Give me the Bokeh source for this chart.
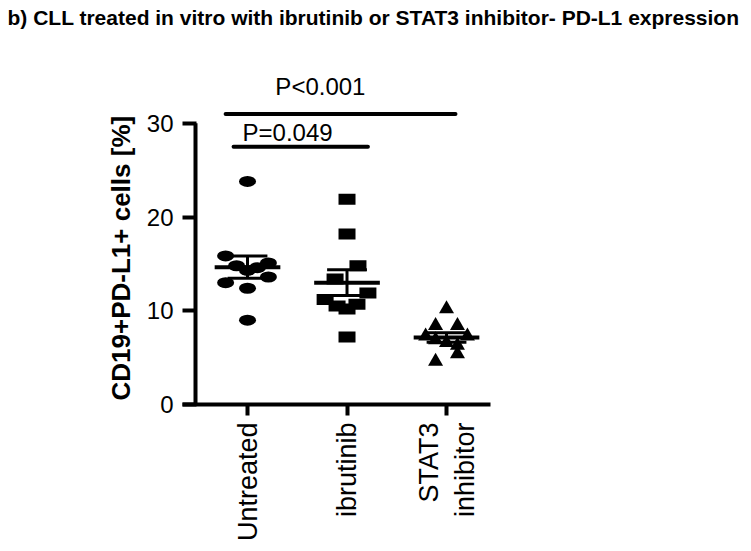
import numpy as np
from bokeh.plotting import figure
from bokeh.models import Range1d, FixedTicker, Title
from bokeh.embed import file_html
from bokeh.resources import INLINE
from bokeh.core.properties import value

# ---------------- data ----------------
title_text = "b) CLL treated in vitro with ibrutinib or STAT3 inhibitor- PD-L1 expression"
categories = ["Untreated", "ibrutinib", "STAT3\ninhibitor"]
y_label = "CD19+PD-L1+ cells [%]"
y_ticks = [0, 10, 20, 30]
y_axis_bounds = (0, 30)

untreated = [23.8, 15.85, 15.1, 14.8, 14.6, 14.3, 13.6, 13.0, 12.4, 9.0]
ibrutinib = [21.9, 18.2, 14.8, 13.4, 11.9, 11.2, 10.7, 10.5, 10.2, 7.2]
stat3_inh = [10.2, 8.4, 8.4, 7.3, 7.3, 6.9, 6.6, 6.3, 5.4, 4.6]

# horizontal scatter of the points within each column (category units)
jitter_untreated = [0.0, -0.22, 0.21, -0.11, 0.10, 0.0, 0.21, -0.22, 0.0, 0.0]
jitter_ibrutinib = [0.0, 0.0, 0.11, -0.12, 0.21, -0.22, 0.10, -0.10, 0.0, 0.0]
jitter_stat3 = [0.0, -0.11, 0.11, -0.21, 0.21, -0.11, 0.0, 0.11, 0.11, -0.11]

# significance brackets
sig_text = ["P=0.049", "P<0.001"]
sig_y = [27.5, 31.0]
sig_x0 = [0.86, 0.78]
sig_x1 = [2.21, 3.09]
sig_text_x = [0.95, 1.28]
sig_text_y = [29.04, 33.94]

# ---------------- layout ----------------
W, H = 751, 551
LEFT, RIGHT, TOP, BOTTOM = 182, 261, 30, 147
frame_w = W - LEFT - RIGHT
frame_h = H - TOP - BOTTOM
X0, X1 = 0.3467, 3.442
PX_PER_Y = 9.4
Y1 = frame_h / PX_PER_Y
px_per_x = frame_w / (X1 - X0)

FONT = "Liberation Sans"
BLACK = "#000000"

p = figure(width=W, height=H, output_backend="svg", toolbar_location=None,
           x_range=Range1d(X0, X1), y_range=Range1d(0, Y1),
           min_border_left=LEFT, min_border_right=RIGHT,
           min_border_top=TOP, min_border_bottom=BOTTOM)
p.outline_line_color = None
p.xgrid.visible = False
p.ygrid.visible = False
p.background_fill_color = "white"
p.border_fill_color = "white"

p.title.text = title_text
p.title.text_font = FONT
p.title.text_font_style = "bold"
p.title.text_font_size = "21px"
p.title.text_color = BLACK
p.title.align = "left"
p.title.offset = -LEFT + 7
p.title.standoff = 6

# y axis
yax = p.yaxis[0]
yax.ticker = FixedTicker(ticks=y_ticks)
yax.bounds = y_axis_bounds
yax.axis_line_color = None
yax.major_tick_in = 14
yax.major_tick_out = 0
yax.major_tick_line_width = 4
yax.major_tick_line_color = BLACK
yax.minor_tick_line_color = None
yax.major_label_text_font = FONT
yax.major_label_text_font_size = "24px"
yax.major_label_text_color = BLACK
yax.major_label_standoff = 9

# y axis title, starting at the bottom of the 0-30 axis
p.add_layout(Title(text=y_label, align="left", offset=4, standoff=15,
                   text_font=FONT, text_font_style="bold", text_font_size="26px",
                   text_color=BLACK), "left")

# vertical axis rule, 13 px right of the frame edge (ticks reach it)
y_rule_x = X0 + 13 / px_per_x
p.segment(x0=[y_rule_x], y0=[y_axis_bounds[0]], x1=[y_rule_x], y1=[y_axis_bounds[1]],
          line_width=4, line_color=BLACK)

# x axis
xax = p.xaxis[0]
xpos = [i + 1 for i in range(len(categories))]
xax.ticker = FixedTicker(ticks=xpos)
xax.major_label_overrides = {x: c for x, c in zip(xpos, categories)}
xax.axis_line_width = 4
xax.axis_line_color = BLACK
xax.major_tick_line_width = 4
xax.major_tick_line_color = BLACK
xax.major_tick_in = 0
xax.major_tick_out = 11
xax.minor_tick_line_color = None
xax.major_label_orientation = np.pi / 2
xax.major_label_text_font = FONT
xax.major_label_text_font_size = "27px"
xax.major_label_text_color = BLACK
xax.major_label_standoff = 7

# points
xu = [xpos[0] + j for j in jitter_untreated]
xi = [xpos[1] + j for j in jitter_ibrutinib]
xs = [xpos[2] + j for j in jitter_stat3]
p.ellipse(x=xu, y=untreated, width=17, height=11, width_units="screen",
          height_units="screen", fill_color=BLACK, line_color=None)
p.rect(x=xi, y=ibrutinib, width=17, height=11, width_units="screen",
       height_units="screen", fill_color=BLACK, line_color=None)
p.scatter(x=xs, y=stat3_inh, marker="triangle", size=15, fill_color=BLACK, line_color=None)

# mean +/- SEM
for xc, vals in zip(xpos, [untreated, ibrutinib, stat3_inh]):
    v = np.asarray(vals)
    m = v.mean()
    s = v.std(ddof=1) / np.sqrt(len(v))
    p.segment(x0=[xc - 0.33], y0=[m], x1=[xc + 0.33], y1=[m], line_width=4, line_color=BLACK)
    p.segment(x0=[xc], y0=[m - s], x1=[xc], y1=[m + s], line_width=3, line_color=BLACK)
    p.segment(x0=[xc - 0.2, xc - 0.2], y0=[m - s, m + s], x1=[xc + 0.2, xc + 0.2],
              y1=[m - s, m + s], line_width=3, line_color=BLACK)

# significance brackets
p.segment(x0=sig_x0, y0=sig_y, x1=sig_x1, y1=sig_y, line_width=4,
          line_color=BLACK, line_cap="round")
p.text(x=sig_text_x, y=sig_text_y, text=sig_text, text_font=value(FONT),
       text_font_size="24px", text_color=BLACK, text_align="left",
       text_baseline="middle")

open("out.html", "w").write(file_html(p, INLINE))
